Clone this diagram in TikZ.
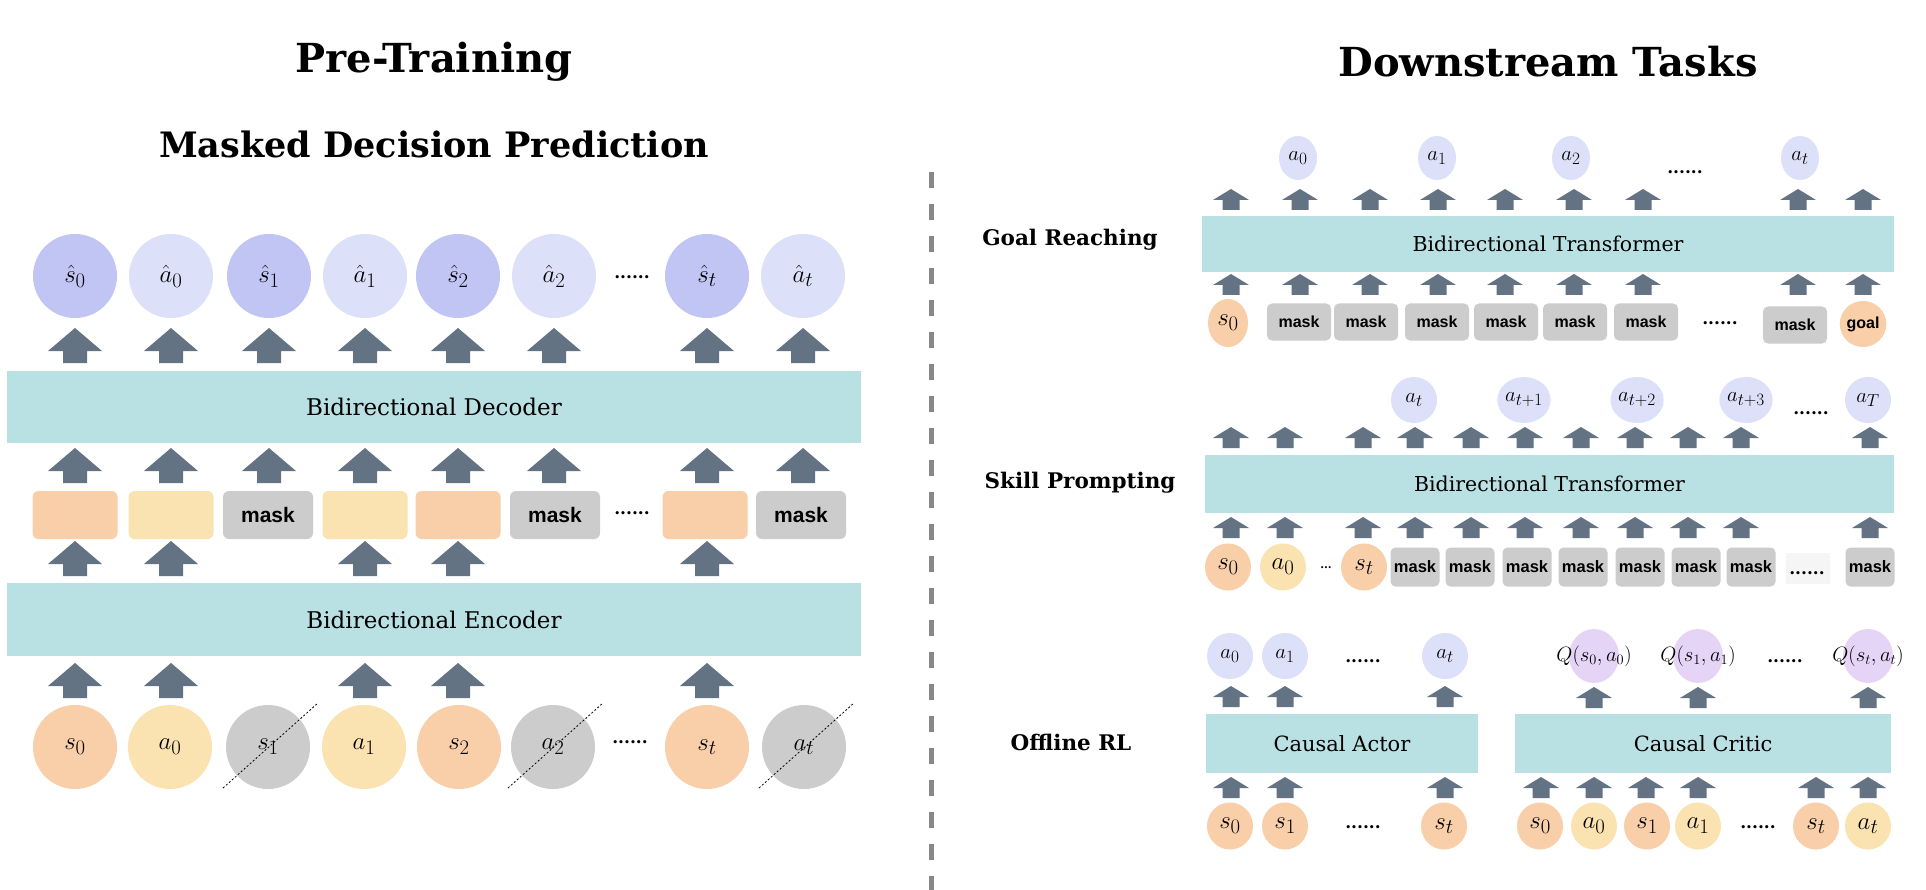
\documentclass[tikz,border=0pt]{standalone}
\usepackage{fontspec}
\setmainfont{DejaVu Serif}
\newfontfamily\maskfont{Liberation Sans}
\usetikzlibrary{shapes.geometric}
\DeclareMathSizes{25}{24.88}{20.74}{17.28}
\DeclareMathSizes{21}{20.74}{17.28}{14.4}
\DeclareMathSizes{18}{17.28}{14.4}{12}
\definecolor{peach}{HTML}{F8CFA9}
\definecolor{sand}{HTML}{FBE3B1}
\definecolor{greyc}{HTML}{CCCCCC}
\definecolor{stblue}{HTML}{C1C5F4}
\definecolor{acblue}{HTML}{DCE0F8}
\definecolor{lav}{HTML}{E6D4F7}
\definecolor{boxteal}{HTML}{B9E1E4}
\definecolor{arrc}{HTML}{647384}
\definecolor{divc}{HTML}{888888}
\newcommand{\fsz}[1]{\fontsize{#1}{#1}\selectfont}
\begin{document}
\begin{tikzpicture}[x=1pt,y=-1pt,
  title/.style={font=\bfseries\fsz{40}},
  subtitle/.style={font=\bfseries\fsz{35}},
  tasklab/.style={font=\bfseries\fsz{21.5}},
  bigbox/.style={fill=boxteal, font=\fsz{23}},
  smallbox/.style={fill=boxteal, font=\fsz{20.5}},
  bigtok/.style={ellipse, inner sep=0pt, minimum width=84pt, minimum height=84pt, font=\fsz{25}},
  tok/.style={ellipse, inner sep=0pt, minimum width=46pt, minimum height=47pt, font=\fsz{25}},
  outtok/.style={ellipse, inner sep=0pt, minimum width=40pt, minimum height=45pt, font=\fsz{21}, fill=acblue},
  qtok/.style={ellipse, inner sep=0pt, minimum width=50pt, minimum height=54pt, fill=lav},
  qlab/.style={font=\fsz{20.74}, inner sep=0pt},
  rectok/.style={rounded corners=6pt, minimum width=85pt, minimum height=48pt},
  bigmask/.style={rounded corners=6pt, fill=greyc, minimum width=90pt, minimum height=48pt, font=\maskfont\bfseries\fsz{21}},
  gmask/.style={rounded corners=5pt, fill=greyc, minimum width=64pt, minimum height=37pt, font=\maskfont\bfseries\fsz{16}},
  smask/.style={rounded corners=5pt, fill=greyc, minimum width=49pt, minimum height=39pt, font=\maskfont\bfseries\fsz{16.5}},
  dots/.style={font=\bfseries\fsz{17}, inner sep=0pt},
  strike/.style={black, line width=0.8pt, dash pattern=on 2pt off 2pt},
  bigarr/.pic={\fill[arrc] (-12pt,0pt)--(-12pt,12pt)--(-27pt,12pt)--(0pt,35pt)--(27pt,12pt)--(12pt,12pt)--(12pt,0pt)--cycle;},
  smallarr/.pic={\fill[arrc] (-8.5pt,0pt)--(-8.5pt,10pt)--(-18pt,10pt)--(0pt,21pt)--(18pt,10pt)--(8.5pt,10pt)--(8.5pt,0pt)--cycle;}
]
\useasboundingbox (0,0) rectangle (1926,890);
\fill[white] (0,0) rectangle (1926,890);

% ---------- titles ----------
\node[title] (tpre) at (434,62) {Pre-Training};
\node[title] (tdown) at (1548,62) {Downstream Tasks};
\node[subtitle] (tmdp) at (434,144) {Masked Decision Prediction};

% divider
\coordinate (divtop) at (931,172);
\coordinate (divbot) at (931,890);
\draw[divc, line width=5pt, dash pattern=on 16pt off 16pt] (divtop) -- (divbot);

% ---------- left panel ----------
\node[bigbox, minimum width=854pt, minimum height=72pt] (dec) at (434,407) {Bidirectional Decoder};
\node[bigbox, minimum width=854pt, minimum height=73pt] (enc) at (434,619.5) {Bidirectional Encoder};

% top predictions
\foreach \x/\lab/\c [count=\i] in {75/{\hat{s}_0}/stblue, 171/{\hat{a}_0}/acblue, 269/{\hat{s}_1}/stblue, 365/{\hat{a}_1}/acblue, 458/{\hat{s}_2}/stblue, 554/{\hat{a}_2}/acblue, 707/{\hat{s}_t}/stblue, 803/{\hat{a}_t}/acblue}
  \node[bigtok, fill=\c] (pred\i) at (\x,276) {$\lab$};
\node[dots] (pdots) at (632,277) {......};

% middle tokens
\node[rectok, fill=peach] (m1) at (75,515) {};
\node[rectok, fill=sand] (m2) at (171,515) {};
\node[bigmask] (m3) at (268,515) {mask};
\node[rectok, fill=sand] (m4) at (365,515) {};
\node[rectok, fill=peach] (m5) at (458,515) {};
\node[bigmask] (m6) at (555,515) {mask};
\node[rectok, fill=peach] (m7) at (705,515) {};
\node[bigmask] (m8) at (801,515) {mask};
\node[dots] (mdots) at (632,513) {......};

% bottom inputs
\foreach \x/\lab/\c [count=\i] in {75/{s_0}/peach, 170/{a_0}/sand, 268/{s_1}/greyc, 364/{a_1}/sand, 459/{s_2}/peach, 553/{a_2}/greyc, 707/{s_t}/peach, 804/{a_t}/greyc}
  \node[bigtok, fill=\c] (in\i) at (\x,747) {$\lab$};
\node[dots] (idots) at (630,742) {......};
\foreach \i in {3,6,8}
  \draw[strike] ([shift={(-45,41)}]in\i.center) -- ([shift={(50,-44)}]in\i.center);

% block arrows (left)
\foreach \x in {75,171,269,365,458,554,707,803} {
  \pic at (\x,363) {bigarr};
  \pic at (\x,483) {bigarr};
}
\foreach \x in {75,171,365,458,707} {
  \pic at (\x,576) {bigarr};
  \pic at (\x,698) {bigarr};
}

% ---------- right panel: goal reaching ----------
\node[tasklab] (lgoal) at (1070,240) {Goal Reaching};
\node[smallbox, minimum width=692pt, minimum height=56pt] (gbox) at (1548,244) {Bidirectional Transformer};
\foreach \x/\lab [count=\i] in {1298/{a_0}, 1437/{a_1}, 1571/{a_2}, 1800/{a_t}}
  \node[outtok, minimum width=38pt, minimum height=44pt] (gout\i) at (\x,158) {$\lab$};
\node[dots] (gdots1) at (1685,172) {......};
\foreach \x in {1231,1300,1370,1438,1505,1574,1643,1798,1863} {
  \pic at (\x,210) {smallarr};
  \pic at (\x,295) {smallarr};
}
\node[tok, fill=peach, minimum width=40pt, minimum height=48pt] (gs0) at (1228,323) {$s_0$};
\foreach \x [count=\i] in {1299,1366,1437,1506,1575,1646}
  \node[gmask] (gm\i) at (\x,322) {mask};
\node[gmask] (gm7) at (1795,325) {mask};
\node[dots] (gdots2) at (1720,323) {......};
\node[ellipse, inner sep=0pt, fill=peach, minimum width=44pt, minimum height=46pt, font=\maskfont\bfseries\fsz{16}] (ggoal) at (1863,324) {goal};

% ---------- skill prompting ----------
\node[tasklab] (lskill) at (1080,483) {Skill Prompting};
\node[smallbox, minimum width=689pt, minimum height=58pt] (sbox) at (1549.5,484) {Bidirectional Transformer};
\foreach \x/\lab [count=\i] in {1414/{a_t}, 1524/{a_{t+1}}, 1637/{a_{t+2}}, 1746/{a_{t+3}}, 1868/{a_T}}
  \node[outtok, minimum width=46pt, minimum height=46pt] (sout\i) at (\x,400) {$\lab$};
\node[dots] (sdots1) at (1811,413) {......};
\foreach \x in {1231,1285,1363,1415,1471,1525,1581,1635,1688,1741,1870} {
  \pic at (\x,448) {smallarr};
  \pic at (\x,538) {smallarr};
}
\node[tok, fill=peach] (ss0) at (1228,567) {$s_0$};
\node[tok, fill=sand] (sa0) at (1283,567) {$a_0$};
\node[dots, font=\bfseries\fsz{11}] (sdots2) at (1326,568) {...};
\node[tok, fill=peach] (sst) at (1364,567) {$s_t$};
\foreach \x [count=\i] in {1415,1470,1527,1583,1640,1696,1751}
  \node[smask] (sm\i) at (\x,567) {mask};
\node[fill=black!4, minimum width=44pt, minimum height=31pt, inner sep=0pt] (sdotsbg) at (1808,568) {};
\node[dots] (sdots3) at (1807,573) {......};
\node[smask] (sm8) at (1870,567) {mask};

% ---------- offline RL ----------
\node[tasklab] (loff) at (1071,742) {Offline RL};
\node[smallbox, font=\fsz{21}, minimum width=272pt, minimum height=59pt] (actor) at (1342,743.5) {Causal Actor};
\node[smallbox, font=\fsz{21}, minimum width=376pt, minimum height=59pt] (critic) at (1703,743.5) {Causal Critic};
\foreach \x/\lab [count=\i] in {1230/{a_0}, 1285/{a_1}, 1445/{a_t}}
  \node[outtok, minimum width=46pt, minimum height=46pt] (aout\i) at (\x,656) {$\lab$};
\node[dots] (adots1) at (1363,661) {......};
\foreach \x in {1231,1285,1445} {
  \pic at (\x,707) {smallarr};
  \pic at (\x,798) {smallarr};
}
\foreach \x/\lab [count=\i] in {1230/{s_0}, 1285/{s_1}, 1444/{s_t}}
  \node[tok, fill=peach] (ain\i) at (\x,826) {$\lab$};
\node[dots] (adots2) at (1363,827) {......};

\foreach \x/\lab [count=\i] in {1594/{Q(s_0,a_0)}, 1698/{Q(s_1,a_1)}, 1868/{Q(s_t,a_t)}} {
  \node[qtok] (cq\i) at (\x,656) {};
  \node[qlab] (cql\i) at (cq\i.center) {$\lab$};
}
\node[dots] (cdots1) at (1785,661) {......};
\foreach \x in {1594,1698,1868} \pic at (\x,708) {smallarr};
\foreach \x in {1541,1594,1646,1698,1816,1868} \pic at (\x,798) {smallarr};
\foreach \x/\lab/\c [count=\i] in {1540/{s_0}/peach, 1594/{a_0}/sand, 1647/{s_1}/peach, 1698/{a_1}/sand, 1816/{s_t}/peach, 1868/{a_t}/sand}
  \node[tok, fill=\c] (cin\i) at (\x,826) {$\lab$};
\node[dots] (cdots2) at (1758,827) {......};
\end{tikzpicture}
\end{document}
